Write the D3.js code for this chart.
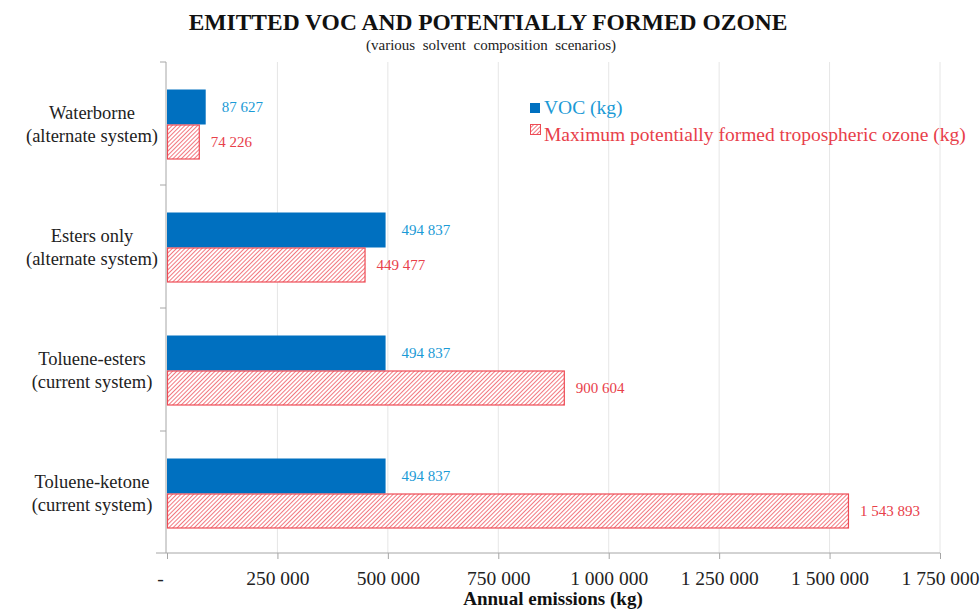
<!DOCTYPE html>
<html>
<head>
<meta charset="utf-8">
<script src="https://cdn.jsdelivr.net/npm/d3@7"></script>
<style>
  body { margin: 0; background: #fff; }
  svg text { font-family: "Liberation Serif", "DejaVu Serif", serif !important; }
</style>
</head>
<body>
<div id="chart"></div>
<script>
// chart data
const categories = [
  ['Waterborne', '(alternate system)'],
  ['Esters only', '(alternate system)'],
  ['Toluene-esters', '(current system)'],
  ['Toluene-ketone', '(current system)']
];
const vocValues = [87627, 494837, 494837, 494837];
const ozoneValues = [74226, 449477, 900604, 1543893];
const xTicks = [0, 250000, 500000, 750000, 1000000, 1250000, 1500000, 1750000];
const seriesNames = ['VOC (kg)', 'Maximum potentially formed tropospheric ozone (kg)'];

const width = 980, height = 611;
const margin = {top: 62, right: 40, bottom: 58, left: 167};

const blue = '#0070c0', blueText = '#1b9ad6';
const red = '#ee4b55', redText = '#e8404a';
const serif = '"Liberation Serif", serif';

const svg = d3.select('#chart')
              .append('svg')
              .attr('width', width)
              .attr('height', height)
              .attr('font-family', serif);

// hatch pattern for the ozone bars
const defs = svg.append('defs');
const pat = defs.append('pattern')
                .attr('id', 'hatch')
                .attr('patternUnits', 'userSpaceOnUse')
                .attr('width', 3)
                .attr('height', 3)
                .attr('patternTransform', 'rotate(45)');
pat.append('rect').attr('width', 3).attr('height', 3).attr('fill', '#fff');
pat.append('line')
   .attr('x1', 0).attr('y1', 0).attr('x2', 0).attr('y2', 3)
   .attr('stroke', red).attr('stroke-width', 1.5);

const x = d3.scaleLinear()
            .domain([0, 1750000])
            .range([margin.left, 940]);

const y = d3.scaleBand()
            .domain(d3.range(categories.length))
            .range([margin.top, 554]);

const inner = d3.scaleBand()
                .domain([0, 1])
                .range([0, 70]);

// gridlines
svg.append('g')
   .selectAll('line')
   .data(xTicks.slice(1))
   .enter().append('line')
   .attr('x1', d => x(d)).attr('x2', d => x(d))
   .attr('y1', margin.top).attr('y2', 553)
   .attr('stroke', '#e6e6e6');

// x axis
const fmt = d => d === 0 ? '-' : d3.format(',')(d).replace(/,/g, ' ');
const xAxis = svg.append('g')
   .attr('transform', 'translate(0,553)')
   .call(d3.axisBottom(x).tickValues(xTicks).tickFormat(fmt).tickSize(6).tickPadding(12));
xAxis.attr('font-family', serif);
xAxis.select('.domain').attr('stroke', '#a6a6a6').attr('d', 'M156,0H940');
xAxis.selectAll('.tick line').attr('stroke', '#a6a6a6');
xAxis.selectAll('.tick text')
     .attr('font-size', 19.5)
     .attr('fill', '#222');
xAxis.selectAll('.tick').filter(d => d === 0).select('text').attr('dx', -7);

// y axis line and category ticks
svg.append('line')
   .attr('x1', 166).attr('x2', 166)
   .attr('y1', margin.top).attr('y2', 553)
   .attr('stroke', '#a6a6a6');
svg.append('g')
   .selectAll('line')
   .data(d3.range(categories.length))
   .enter().append('line')
   .attr('x1', 160).attr('x2', 166)
   .attr('y1', d => y(d)).attr('y2', d => y(d))
   .attr('stroke', '#a6a6a6');

// category labels
const catLabel = svg.append('g')
   .selectAll('text')
   .data(categories)
   .enter().append('text')
   .attr('x', 92)
   .attr('y', (d, i) => y(i) + y.bandwidth() / 2)
   .attr('text-anchor', 'middle')
   .attr('font-size', 18.5)
   .attr('fill', '#222');
catLabel.append('tspan').attr('x', 92).attr('dy', -5).text(d => d[0]);
catLabel.append('tspan').attr('x', 92).attr('dy', 23).text(d => d[1]);

const groupTop = i => y(i) + (y.bandwidth() - 70) / 2 + 1;

// VOC bars
svg.append('g')
   .selectAll('rect')
   .data(vocValues)
   .enter().append('rect')
   .attr('x', x(0))
   .attr('y', (d, i) => groupTop(i) + inner(0))
   .attr('width', d => x(d) - x(0))
   .attr('height', inner.bandwidth())
   .attr('fill', blue);

// ozone bars
svg.append('g')
   .selectAll('rect')
   .data(ozoneValues)
   .enter().append('rect')
   .attr('x', x(0) + 0.5)
   .attr('y', (d, i) => groupTop(i) + inner(1) + 0.5)
   .attr('width', d => x(d) - x(0) - 1)
   .attr('height', inner.bandwidth() - 1)
   .attr('fill', 'url(#hatch)')
   .attr('stroke', red)
   .attr('stroke-width', 1.2);

// value labels
const numFmt = d => d3.format(',')(d).replace(/,/g, ' ');
svg.append('g')
   .selectAll('text')
   .data(vocValues)
   .enter().append('text')
   .attr('x', d => x(d) + 16)
   .attr('y', (d, i) => groupTop(i) + inner(0) + inner.bandwidth() / 2 + 5)
   .attr('font-size', 15)
   .attr('fill', blueText)
   .text(numFmt);
svg.append('g')
   .selectAll('text')
   .data(ozoneValues)
   .enter().append('text')
   .attr('x', d => x(d) + 11)
   .attr('y', (d, i) => groupTop(i) + inner(1) + inner.bandwidth() / 2 + 5)
   .attr('font-size', 15)
   .attr('fill', redText)
   .text(numFmt);

// legend
const legend = svg.append('g');
legend.append('rect')
      .attr('x', 530).attr('y', 103).attr('width', 10).attr('height', 10)
      .attr('fill', blue);
legend.append('text')
      .attr('x', 544).attr('y', 114)
      .attr('font-size', 19.5)
      .attr('fill', blueText)
      .text(seriesNames[0]);
legend.append('rect')
      .attr('x', 530.5).attr('y', 124.5).attr('width', 10).attr('height', 10)
      .attr('fill', 'url(#hatch)')
      .attr('stroke', red);
legend.append('text')
      .attr('x', 544).attr('y', 141)
      .attr('font-size', 19.5)
      .attr('fill', redText)
      .text(seriesNames[1]);

// titles
svg.append('text')
   .attr('x', 488).attr('y', 30)
   .attr('text-anchor', 'middle')
   .attr('font-size', 23.5)
   .attr('font-weight', 'bold')
   .attr('fill', '#111')
   .text('EMITTED VOC AND POTENTIALLY FORMED OZONE');
svg.append('text')
   .attr('x', 491).attr('y', 50)
   .attr('text-anchor', 'middle')
   .attr('font-size', 15)
   .attr('fill', '#222')
   .style('white-space', 'pre')
   .text('(various  solvent  composition  scenarios)');
svg.append('text')
   .attr('x', 553).attr('y', 605)
   .attr('text-anchor', 'middle')
   .attr('font-size', 19)
   .attr('font-weight', 'bold')
   .attr('fill', '#111')
   .text('Annual emissions (kg)');
</script>
</body>
</html>
